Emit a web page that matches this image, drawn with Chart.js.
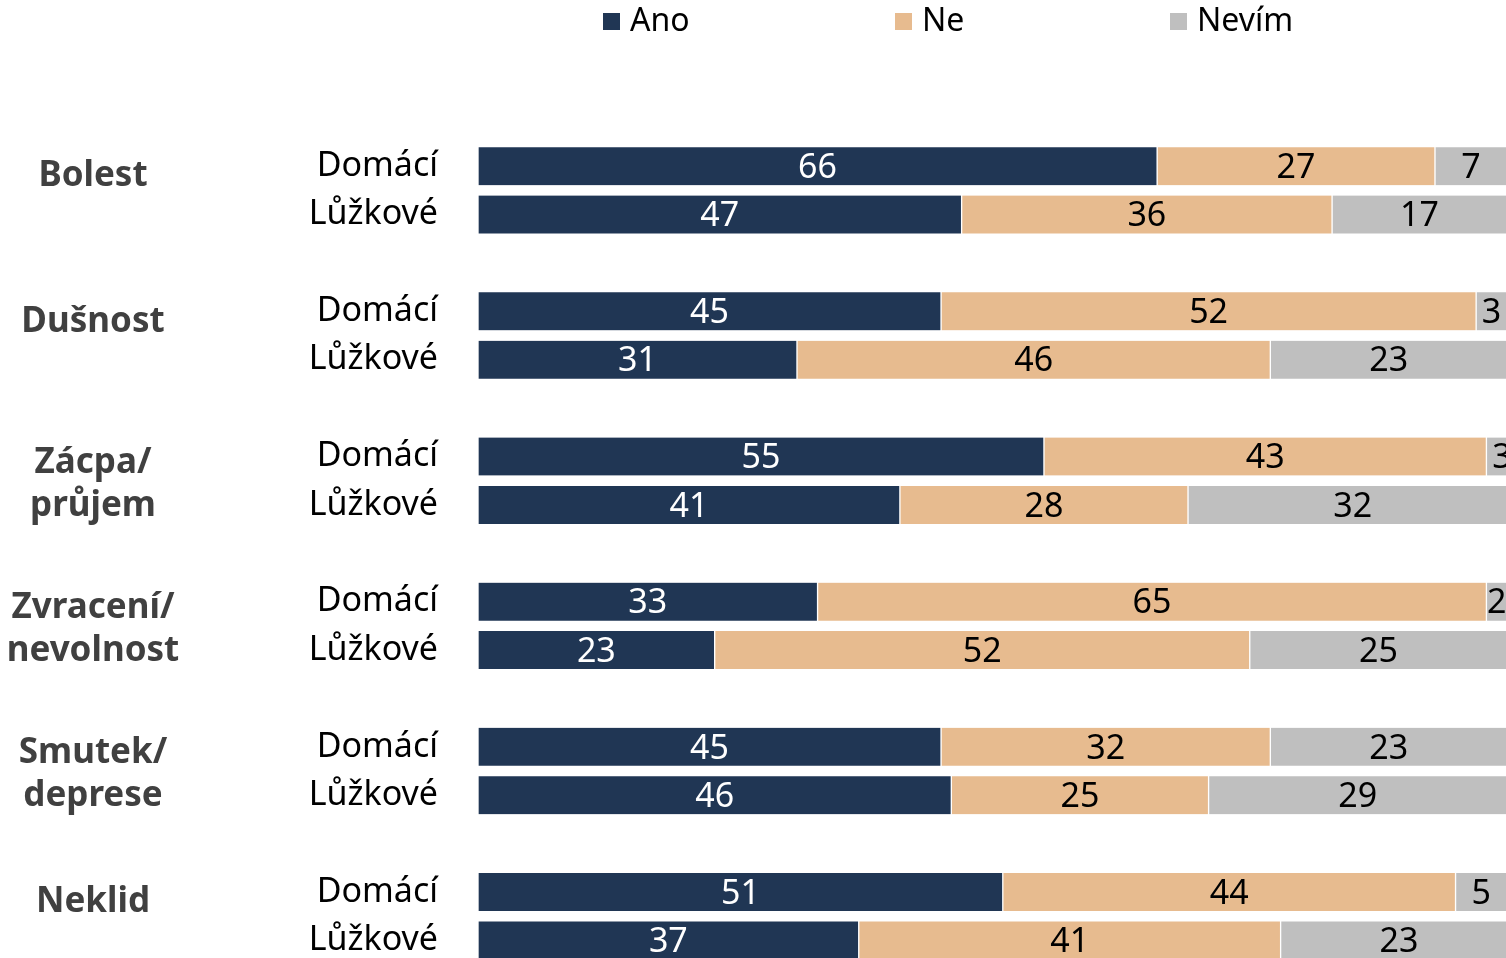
<!DOCTYPE html>
<html lang="cs">
<head>
<meta charset="utf-8">
<title>Symptomy – Domácí vs. Lůžkové</title>
<script src="https://cdn.jsdelivr.net/npm/chart.js@4.4.1/dist/chart.umd.min.js"></script>
<style>
  html, body { margin: 0; padding: 0; background: #fff; overflow: hidden; }
  #wrap { width: 1506px; height: 958px; overflow: hidden; }
  canvas { display: block; }
</style>
</head>
<body>
<div id="wrap">
  <canvas id="chart" width="1530" height="1025"></canvas>
</div>
<script>
// symptom groups, each with two care types
const groups = [['Bolest'], ['Dušnost'], ['Zácpa/', 'průjem'], ['Zvracení/', 'nevolnost'], ['Smutek/', 'deprese'], ['Neklid']];
const careTypes = ['Domácí', 'Lůžkové'];

// percentages per row, in order Bolest D, Bolest L, Dušnost D, ...
const ano   = [66, 47, 45, 31, 55, 41, 33, 23, 45, 46, 51, 37];
const ne    = [27, 36, 52, 46, 43, 28, 65, 52, 32, 25, 44, 41];
const nevim = [7, 17, 3, 23, 3, 32, 2, 25, 23, 29, 5, 23];

const seriesNames = ['Ano', 'Ne', 'Nevím'];
const seriesColors = ['#203654', '#E7BB8F', '#BFBFBF'];
const labelColors = ['#ffffff', '#000000', '#000000'];

const FONT = '"Noto Sans", "Open Sans", sans-serif';

// rows with an empty spacer slot between groups
const labels = [];
const rowIndex = [];
groups.forEach((g, gi) => {
  if (gi > 0) { labels.push(''); rowIndex.push(null); }
  careTypes.forEach((t, ti) => { labels.push(t); rowIndex.push(gi * 2 + ti); });
});
const spread = arr => rowIndex.map(i => i === null ? null : arr[i]);

const datasets = [ano, ne, nevim].map((arr, k) => ({
  label: seriesNames[k],
  data: spread(arr),
  backgroundColor: seriesColors[k],
  borderColor: '#ffffff',
  borderWidth: { left: 1, right: 1, top: 0, bottom: 0 },
  borderSkipped: false,
  barThickness: 38
}));

// value text in the middle of every segment
const valueLabels = {
  id: 'valueLabels',
  afterDatasetsDraw(chart) {
    const ctx = chart.ctx;
    ctx.save();
    ctx.font = '34px ' + FONT;
    ctx.textAlign = 'center';
    ctx.textBaseline = 'middle';
    chart.data.datasets.forEach((ds, k) => {
      chart.getDatasetMeta(k).data.forEach((bar, i) => {
        const v = ds.data[i];
        if (v === null || v === undefined) return;
        const p = bar.getProps(['x', 'y', 'base'], true);
        ctx.fillStyle = labelColors[k];
        ctx.fillText(String(v), (p.x + p.base) / 2, p.y + 2);
      });
    });
    ctx.restore();
  }
};

// bold group names to the left of each pair of rows
const groupLabels = {
  id: 'groupLabels',
  afterDraw(chart) {
    const ctx = chart.ctx;
    const y = chart.scales.y;
    ctx.save();
    ctx.font = 'bold 35px ' + FONT;
    ctx.fillStyle = '#404040';
    ctx.textAlign = 'center';
    ctx.textBaseline = 'alphabetic';
    groups.forEach((lines, gi) => {
      const first = gi * 3;
      const mid = (y.getPixelForValue(first) + y.getPixelForValue(first + 1)) / 2;
      if (lines.length === 1) {
        ctx.fillText(lines[0], 93, mid - 4);
      } else {
        ctx.fillText(lines[0], 93, mid - 8);
        ctx.fillText(lines[1], 93, mid + 35);
      }
    });
    ctx.restore();
  }
};

// legend row across the top
const topLegend = {
  id: 'topLegend',
  afterDraw(chart) {
    const ctx = chart.ctx;
    const xs = [603, 895, 1170];
    ctx.save();
    ctx.font = '32px ' + FONT;
    ctx.textBaseline = 'middle';
    ctx.textAlign = 'left';
    seriesNames.forEach((name, k) => {
      ctx.fillStyle = seriesColors[k];
      ctx.fillRect(xs[k], 13, 17, 17);
      ctx.fillStyle = '#000000';
      ctx.fillText(name, xs[k] + 27, 22);
    });
    ctx.restore();
  }
};

new Chart(document.getElementById('chart'), {
  type: 'bar',
  data: { labels: labels, datasets: datasets },
  options: {
    indexAxis: 'y',
    responsive: false,
    animation: false,
    layout: { padding: { top: 142, bottom: 0, left: 0, right: 23 } },
    plugins: {
      legend: { display: false },
      tooltip: { enabled: false }
    },
    scales: {
      x: {
        stacked: true,
        min: 0,
        max: 100,
        display: false
      },
      y: {
        stacked: true,
        grid: { display: false, drawTicks: false },
        border: { display: false },
        ticks: {
          padding: 40,
          color: '#000000',
          font: { family: FONT, size: 34 },
          autoSkip: false
        },
        afterFit(scale) { scale.width = 478; }
      }
    }
  },
  plugins: [valueLabels, groupLabels, topLegend]
});
</script>
</body>
</html>
